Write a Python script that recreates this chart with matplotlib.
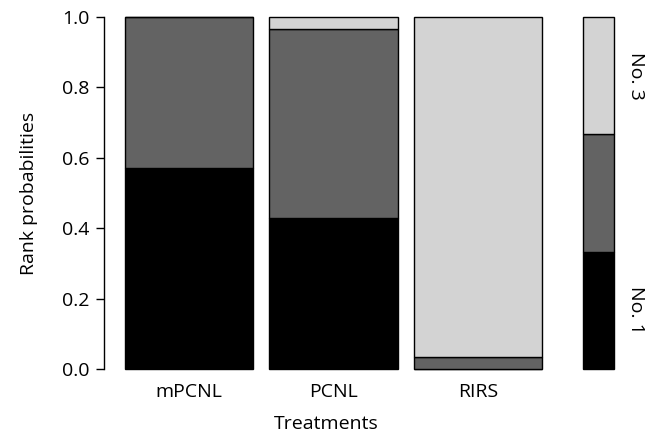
import numpy as np
import matplotlib.pyplot as plt

plt.rcParams['font.family'] = ['Open Sans', 'DejaVu Sans']

treatments = ["mPCNL", "PCNL", "RIRS"]
rank1 = [0.571, 0.429, 0.0]
rank2 = [0.429, 0.538, 0.033]
rank3 = [0.0, 0.033, 0.967]
rank_colors = ["#000000", "#636363", "#d3d3d3"]
yticks = [0.0, 0.2, 0.4, 0.6, 0.8, 1.0]

W, H = 657, 438
fs = 14
fig = plt.figure(figsize=(W / 100, H / 100), dpi=100)

# main panel, placed in pixel coords
ax = fig.add_axes([104 / W, (H - 369) / H, (548.5 - 104) / W, 352 / H])
x = np.arange(len(treatments)) * 1.125
bottom = np.zeros(len(treatments))
for vals, col in zip([rank1, rank2, rank3], rank_colors):
    ax.bar(x, vals, width=1.0, bottom=bottom, color=col, edgecolor="black",
           linewidth=1.0, clip_on=False)
    bottom = bottom + np.array(vals)

ax.set_xlim(-0.662, 2.80)
ax.set_ylim(0, 1)
for s in ["top", "right", "bottom"]:
    ax.spines[s].set_visible(False)
ax.spines["left"].set_linewidth(1.0)
ax.set_yticks(yticks)
ax.set_yticklabels(["%.1f" % v for v in yticks], fontsize=fs)
ax.tick_params(axis="y", length=5.5, width=1.0, pad=5)
ax.set_xticks(x)
ax.set_xticklabels(treatments, fontsize=fs)
ax.tick_params(axis="x", length=0, pad=10)
ax.set_xlabel("Treatments", fontsize=fs, labelpad=10)
ax.set_ylabel("Rank probabilities", fontsize=fs, labelpad=17)

# colour key on the right
lax = fig.add_axes([583 / W, (H - 369) / H, 31 / W, 352 / H])
key = np.arange(len(rank_colors)) / 3
for i, col in enumerate(rank_colors):
    lax.bar(0, 1 / 3, bottom=key[i], width=1, color=col, edgecolor="black",
            linewidth=1.0, clip_on=False)
lax.set_xlim(-0.5, 0.5)
lax.set_ylim(0, 1)
lax.axis("off")
lax.text(1.2, 5 / 6, "No. 3", rotation=-90, ha="center", va="center",
         fontsize=fs, transform=lax.transData)
lax.text(1.2, 1 / 6, "No. 1", rotation=-90, ha="center", va="center",
         fontsize=fs, transform=lax.transData)

fig.savefig("out.png", dpi=100)
